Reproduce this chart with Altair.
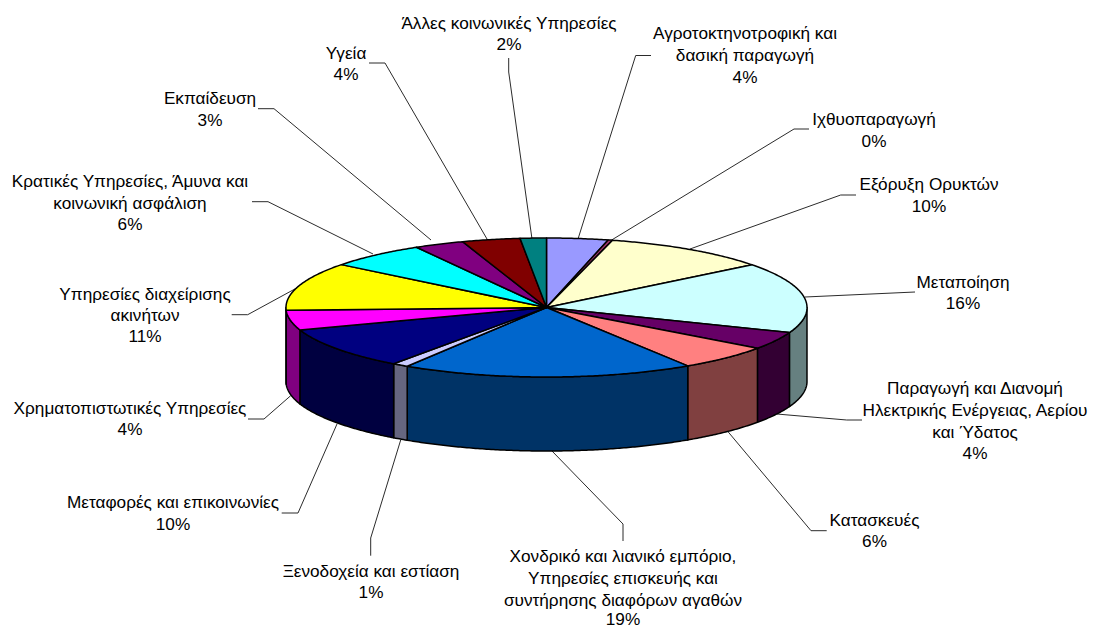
import math
import altair as alt

CATEGORIES = [
    ["Αγροτοκτηνοτροφική και", "δασική παραγωγή"],
    ["Ιχθυοπαραγωγή"],
    ["Εξόρυξη Ορυκτών"],
    ["Μεταποίηση"],
    ["Παραγωγή και Διανομή", "Ηλεκτρικής Ενέργειας, Αερίου", "και Ύδατος"],
    ["Κατασκευές"],
    ["Χονδρικό και λιανικό εμπόριο,", "Υπηρεσίες επισκευής και", "συντήρησης διαφόρων αγαθών"],
    ["Ξενοδοχεία και εστίαση"],
    ["Μεταφορές και επικοινωνίες"],
    ["Χρηματοπιστωτικές Υπηρεσίες"],
    ["Υπηρεσίες διαχείρισης", "ακινήτων"],
    ["Κρατικές Υπηρεσίες, Άμυνα και", "κοινωνική ασφάλιση"],
    ["Εκπαίδευση"],
    ["Υγεία"],
    ["Άλλες κοινωνικές Υπηρεσίες"],
]
PERCENT_LABELS = ["4%", "0%", "10%", "16%", "4%", "6%", "19%", "1%", "10%", "4%", "11%", "6%", "3%", "4%", "2%"]
SHARES = [3.8, 0.28, 10.4, 16.4, 4.1, 5.9, 18.1, 1.0, 9.8, 4.6, 11.2, 6.1, 3.1, 3.6, 1.62]
TOP_COLOURS = ["#9999FF", "#993366", "#FFFFCC", "#CCFFFF", "#660066", "#FF8080", "#0066CC", "#CCCCFF",
               "#000080", "#FF00FF", "#FFFF00", "#00FFFF", "#800080", "#800000", "#008080"]
SIDE_COLOURS = ["#4C4C80", "#4C1A33", "#808066", "#668080", "#330033", "#804040", "#003366", "#666680",
                "#000040", "#800080", "#808000", "#008080", "#400040", "#400000", "#004040"]

# label anchor: centre x, then the middle y of every text line
LABEL_X = [745, 874, 929, 963, 975, 874.5, 623, 371, 173, 130, 145, 130, 210, 346, 509]
LABEL_Y = [[34, 56, 78], [120, 141.7], [185, 207], [282.7, 304], [389, 411, 433, 454], [520.7, 541.7],
           [557, 579, 600.7, 620.3], [571.7, 593], [503, 525], [409, 430], [295, 316, 337],
           [181.7, 204, 225], [99, 120.7], [54, 75], [24, 45]]
LEADERS = [
    [[651, 55.5], [635.7, 55.5], [578, 239]],
    [[809, 129], [794, 129], [610, 241]],
    [[856, 195], [840.7, 195], [690, 249]],
    [[915, 292], [805, 297]],
    [[862, 420], [846.7, 420], [776.7, 414]],
    [[826.7, 530.7], [811, 530.7], [728, 431.7]],
    [[623, 541], [623, 524], [551.7, 450.7]],
    [[370.7, 555.7], [370.7, 538], [400.7, 440]],
    [[281.7, 513], [298, 513], [337, 424]],
    [[248, 419], [264, 419], [290.7, 395.7]],
    [[231.7, 314.7], [247.7, 314.7], [296.7, 288]],
    [[252, 201.7], [268, 201.7], [373, 254]],
    [[258, 108.7], [274, 108.7], [431, 240]],
    [[369, 63], [385, 63], [487, 239]],
    [[508.7, 58], [508.7, 72], [532, 239]],
]

CX, CY, RX, RY, DEPTH = 546.5, 307.5, 260.5, 69.5, 74


def rim(t, dy=0.0):
    a = math.radians(t)
    return [CX + RX * math.sin(a), CY - RY * math.cos(a) + dy]


def arc(a, b):
    n = max(2, int((b - a) * 2) + 1)
    return [a + (b - a) * i / (n - 1) for i in range(n)]


def feature(kind, coords, colour):
    return {"type": "Feature", "properties": {"fill": colour},
            "geometry": {"type": kind, "coordinates": coords}}


tops, walls = [], []
total = sum(SHARES)
angle = 0.0
for share, top, side in zip(SHARES, TOP_COLOURS, SIDE_COLOURS):
    end = angle + share / total * 360
    ring = [[CX, CY]] + [rim(t) for t in arc(angle, end)] + [[CX, CY]]
    tops.append(feature("Polygon", [ring], top))
    lo, hi = max(angle, 90), min(end, 270)
    if hi > lo:
        ts = arc(lo, hi)
        wall = [rim(t) for t in ts] + [rim(t, DEPTH) for t in reversed(ts)]
        wall.append(wall[0])
        walls.append(feature("Polygon", [wall], side))
    angle = end

leader_features = [feature("LineString", line, "#333333") for line in LEADERS]

text_rows = []
for cat, pct, x, ys in zip(CATEGORIES, PERCENT_LABELS, LABEL_X, LABEL_Y):
    for line, y in zip(cat + [pct], ys):
        text_rows.append({"t": line, "lon": x, "lat": y})

PROJ = dict(type="identity", scale=1, translate=[-8, -8])

leaders = (
    alt.Chart(alt.Data(values=leader_features))
    .mark_geoshape(filled=False, stroke="#2b2b2b", strokeWidth=1)
    .project(**PROJ)
)


def faces(features):
    return (
        alt.Chart(alt.Data(values=features))
        .mark_geoshape(stroke="#000000", strokeWidth=1.5, strokeJoin="round")
        .encode(fill=alt.Fill("properties.fill:N", scale=None, legend=None))
        .project(**PROJ)
    )


labels = (
    alt.Chart(alt.Data(values=text_rows))
    .mark_text(font="Liberation Sans", fontSize=17.2, color="#000000", align="center", baseline="middle")
    .encode(longitude="lon:Q", latitude="lat:Q", text="t:N")
    .project(**PROJ)
)

chart = (
    alt.layer(leaders, faces(walls), faces(tops), labels)
    .properties(width=1080, height=621, padding=0, autosize=alt.AutoSizeParams(type="none"))
    .configure_view(stroke=None)
    .configure(background="#ffffff")
)
chart.save("out.html", embed_options={"renderer": "svg", "actions": False})
